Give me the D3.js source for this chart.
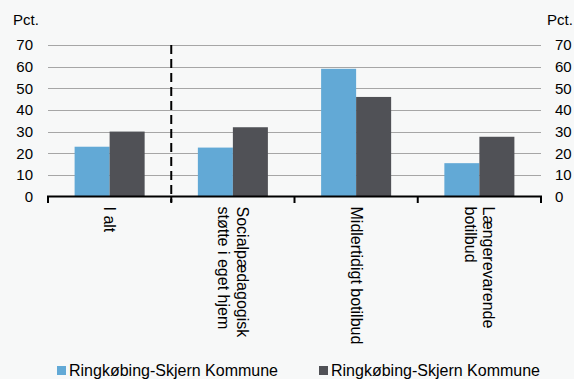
<!DOCTYPE html>
<html><head><meta charset="utf-8">
<script src="https://cdn.jsdelivr.net/npm/d3@7"></script>
<style>html,body{margin:0;padding:0;background:#f7f8f8;}svg{display:block;font-family:"Liberation Sans",Arial,sans-serif;}</style>
</head><body>
<script>
const categories = [["I alt"], ["Socialpædagogisk", "støtte i eget hjem"], ["Midlertidigt botilbud"], ["Længerevarende", "botilbud"]];
const seriesNames = ["Ringkøbing-Skjern Kommune", "Ringkøbing-Skjern Kommune "];
const seriesA = [23, 22.6, 59, 15.4];
const seriesB = [30, 32, 46, 27.6];
const yTicks = [0, 10, 20, 30, 40, 50, 60, 70];
const colors = ["#62a9d6", "#505156"];

const W = 574, H = 379;
const svg = d3.select("body").append("svg").attr("width", W).attr("height", H);
svg.append("rect").attr("width", W).attr("height", H).attr("fill", "#f7f8f8");

const catIdx = categories.map((c, i) => i);
const x = d3.scaleBand().domain(catIdx).range([48, 541]).padding(0);
const x1 = d3.scaleBand().domain([0, 1]).range([0, x.bandwidth()]).paddingInner(0).paddingOuter(0.76);
const y = d3.scaleLinear().domain([0, 70]).range([196.5, 45]);

// gridlines
svg.append("g").selectAll("line").data(yTicks.filter(t => t > 0)).join("line")
  .attr("x1", 48).attr("x2", 541).attr("y1", d => Math.round(y(d)) + 0.5).attr("y2", d => Math.round(y(d)) + 0.5)
  .attr("stroke", "#a6a6a6").attr("stroke-width", 1);

// bars
const data = catIdx.map(i => [seriesA[i], seriesB[i]]);
const g = svg.append("g");
data.forEach((vals, i) => {
  vals.forEach((v, s) => {
    g.append("rect").attr("x", x(i) + x1(s)).attr("width", x1.bandwidth())
      .attr("y", y(v)).attr("height", y(0) - y(v)).attr("fill", colors[s]);
  });
});

// left and right axis labels
const left = d3.axisLeft(y).tickValues(yTicks).tickSize(0).tickPadding(15);
svg.append("g").attr("transform", "translate(48,0)").call(left)
  .call(s => s.select(".domain").remove())
  .call(s => s.selectAll("text").attr("font-size", 15).attr("fill", "#000").attr("font-family", "Liberation Sans, Arial"));
const right = d3.axisRight(y).tickValues(yTicks).tickSize(0).tickPadding(14);
svg.append("g").attr("transform", "translate(541,0)").call(right)
  .call(s => s.select(".domain").remove())
  .call(s => s.selectAll("text").attr("font-size", 15).attr("fill", "#000").attr("font-family", "Liberation Sans, Arial"));

svg.append("text").attr("x", 13).attr("y", 25).attr("font-size", 15).text("Pct.");
svg.append("text").attr("x", 547).attr("y", 25).attr("font-size", 15).text("Pct.");

// x axis
const bottom = d3.axisBottom(x).tickSize(0).tickFormat(() => "");
svg.append("g").attr("transform", "translate(0,196.5)").call(bottom)
  .call(s => s.select(".domain").remove());
svg.append("line").attr("x1", 47).attr("x2", 542).attr("y1", 196.5).attr("y2", 196.5).attr("stroke", "#000").attr("stroke-width", 2);
const boundaries = [48].concat(catIdx.map(i => x(i) + x.step()));
svg.append("g").selectAll("line").data(boundaries).join("line")
  .attr("x1", d => d).attr("x2", d => d).attr("y1", 196.5).attr("y2", 203)
  .attr("stroke", "#000").attr("stroke-width", 2);

// dashed separator
svg.append("line").attr("x1", x(1)).attr("x2", x(1)).attr("y1", 45).attr("y2", 202)
  .attr("stroke", "#000").attr("stroke-width", 2).attr("stroke-dasharray", "9,5");

// category labels (rotated)
catIdx.forEach(i => {
  const lines = categories[i];
  const cx = x(i) + x.bandwidth() / 2;
  const lh = 18.5;
  const t = svg.append("text").attr("font-size", 16).attr("fill", "#000")
    .attr("transform", `translate(${cx + (lines.length - 1) * lh / 2 - 5.5},206.5) rotate(90)`);
  lines.forEach((l, k) => {
    t.append("tspan").attr("x", 0).attr("y", k * lh).text(l);
  });
});

// legend
const legX = [57, 319];
seriesNames.forEach((n, s) => {
  svg.append("rect").attr("x", legX[s]).attr("y", 366).attr("width", 9).attr("height", 9).attr("fill", colors[s]);
  svg.append("text").attr("x", legX[s] + 12).attr("y", 375.5).attr("font-size", 16).attr("fill", "#000").text(n.trim());
});
</script>
</body></html>
